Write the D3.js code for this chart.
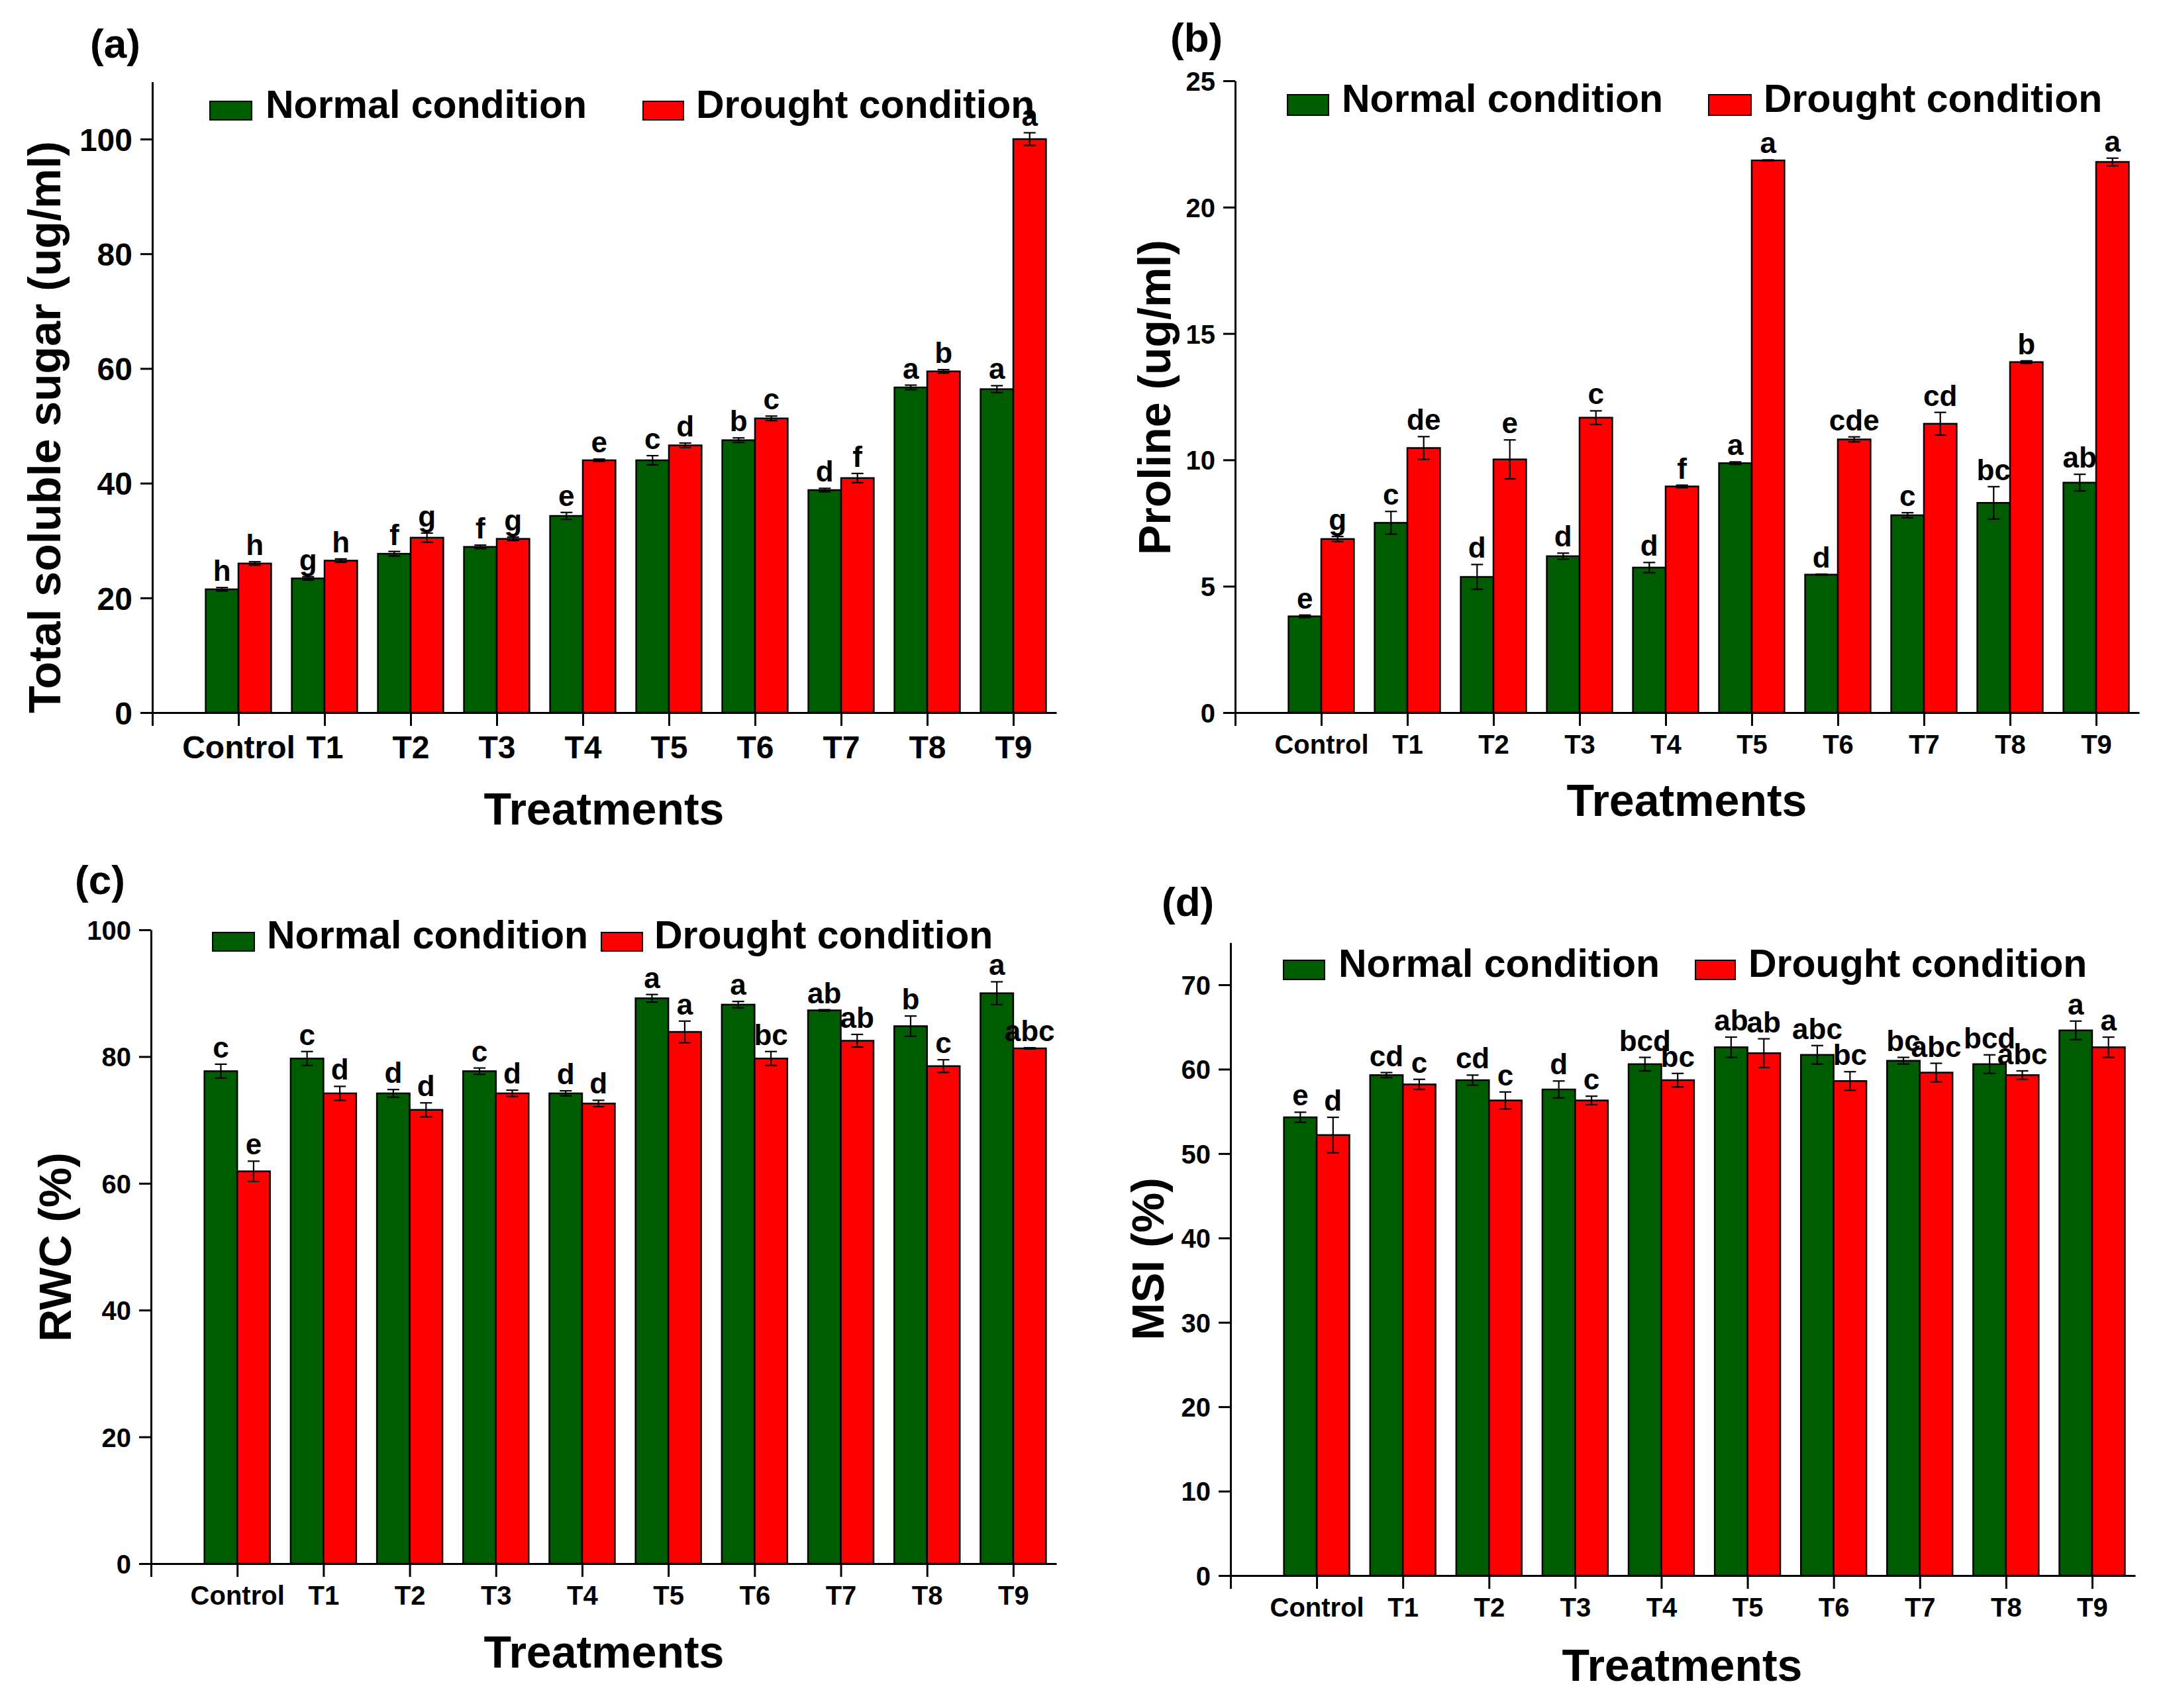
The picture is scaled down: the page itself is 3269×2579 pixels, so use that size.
<!DOCTYPE html>
<html>
<head>
<meta charset="utf-8">
<script src="https://cdn.jsdelivr.net/npm/d3@7"></script>
<style>
  html, body { margin: 0; padding: 0; background: #ffffff; }
  svg { display: block; }
  text { font-family: "Liberation Sans", Arial, "Helvetica", sans-serif; font-weight: bold; fill: #000; }
</style>
</head>
<body>
<script>
// ---------------- DATA ----------------
const categories = ["Control", "T1", "T2", "T3", "T4", "T5", "T6", "T7", "T8", "T9"];
const seriesNames = ["Normal condition", "Drought condition"];

// (a) Total soluble sugar (ug/ml)
const sugarNormal       = [21.5, 23.4, 27.7, 28.9, 34.3, 44.0, 47.5, 38.8, 56.7, 56.4];
const sugarDrought      = [26.0, 26.5, 30.5, 30.3, 44.0, 46.6, 51.3, 40.9, 59.5, 100.0];
const sugarNormalErr    = [0.3, 0.3, 0.4, 0.3, 0.6, 0.8, 0.4, 0.3, 0.4, 0.6];
const sugarDroughtErr   = [0.3, 0.3, 0.8, 0.3, 0.2, 0.4, 0.4, 0.8, 0.3, 1.1];
const sugarNormalLetters  = ["h", "g", "f", "f", "e", "c", "b", "d", "a", "a"];
const sugarDroughtLetters = ["h", "h", "g", "g", "e", "d", "c", "f", "b", "a"];
const sugarTicks = [0, 20, 40, 60, 80, 100];

// (b) Proline (ug/ml)
const prolineNormal     = [3.81, 7.51, 5.37, 6.19, 5.74, 9.87, 5.46, 7.81, 8.30, 9.10];
const prolineDrought    = [6.87, 10.47, 10.02, 11.67, 8.95, 21.85, 10.81, 11.43, 13.87, 21.79];
const prolineNormalErr  = [0.05, 0.45, 0.49, 0.12, 0.2, 0.05, 0.02, 0.1, 0.64, 0.33];
const prolineDroughtErr = [0.1, 0.45, 0.77, 0.27, 0.05, 0.02, 0.1, 0.45, 0.05, 0.15];
const prolineNormalLetters  = ["e", "c", "d", "d", "d", "a", "d", "c", "bc", "ab"];
const prolineDroughtLetters = ["g", "de", "e", "c", "f", "a", "cde", "cd", "b", "a"];
const prolineTicks = [0, 5, 10, 15, 20, 25];

// (c) RWC (%)
const rwcNormal       = [77.7, 79.7, 74.2, 77.7, 74.2, 89.2, 88.2, 87.3, 84.8, 90.0];
const rwcDrought      = [61.9, 74.2, 71.6, 74.2, 72.6, 83.9, 79.7, 82.5, 78.5, 81.3];
const rwcNormalErr    = [1.1, 1.1, 0.6, 0.5, 0.4, 0.6, 0.5, 0.1, 1.6, 1.8];
const rwcDroughtErr   = [1.6, 1.1, 1.1, 0.5, 0.5, 1.7, 1.1, 1.0, 1.0, 0.1];
const rwcNormalLetters  = ["c", "c", "d", "c", "d", "a", "a", "ab", "b", "a"];
const rwcDroughtLetters = ["e", "d", "d", "d", "d", "a", "bc", "ab", "c", "abc"];
const rwcTicks = [0, 20, 40, 60, 80, 100];

// (d) MSI (%)
const msiNormal       = [54.3, 59.3, 58.7, 57.6, 60.6, 62.6, 61.7, 61.0, 60.6, 64.6];
const msiDrought      = [52.2, 58.2, 56.3, 56.3, 58.7, 61.9, 58.6, 59.6, 59.3, 62.6];
const msiNormalErr    = [0.6, 0.3, 0.6, 1.0, 0.8, 1.2, 1.1, 0.4, 1.1, 1.1];
const msiDroughtErr   = [2.1, 0.6, 1.0, 0.5, 0.8, 1.7, 1.1, 1.1, 0.5, 1.2];
const msiNormalLetters  = ["e", "cd", "cd", "d", "bcd", "ab", "abc", "bc", "bcd", "a"];
const msiDroughtLetters = ["d", "c", "c", "c", "bc", "ab", "bc", "abc", "abc", "a"];
const msiTicks = [0, 10, 20, 30, 40, 50, 60, 70];

// ---------------- STYLE / LAYOUT ----------------
const COLORS = ["#005c00", "#ff0000"];
const W = 3269, H = 2579;

const panels = [
  { tag: "(a)", tagX: 136, tagY: 87,
    normal: sugarNormal, drought: sugarDrought, nErr: sugarNormalErr, dErr: sugarDroughtErr,
    nLet: sugarNormalLetters, dLet: sugarDroughtLetters, ticks: sugarTicks,
    yMax: 110, refVal: 100, y0: 1076, yRefPx: 210, xa: 230, xb: 1595,
    yTitle: "Total soluble sugar (ug/ml)", yTitleX: 91, yTitleY: 645,
    tickFont: 48, xLabelOff: 69, xTitleX: 912, xTitleY: 1245,
    legTop: 153, legH: 28, legG: [317, 63], legGText: 401, legR: [971, 61], legRText: 1051, legBase: 178 },
  { tag: "(b)", tagX: 1767, tagY: 78,
    normal: prolineNormal, drought: prolineDrought, nErr: prolineNormalErr, dErr: prolineDroughtErr,
    nLet: prolineNormalLetters, dLet: prolineDroughtLetters, ticks: prolineTicks,
    yMax: 25, refVal: 25, y0: 1076, yRefPx: 122, xa: 1865, xb: 3230,
    yTitle: "Proline (ug/ml)", yTitleX: 1767, yTitleY: 600,
    tickFont: 40, xLabelOff: 62, xTitleX: 2547, xTitleY: 1232,
    legTop: 143, legH: 31, legG: [1944, 62], legGText: 2026, legR: [2580, 64], legRText: 2663, legBase: 169 },
  { tag: "(c)", tagX: 113, tagY: 1350,
    normal: rwcNormal, drought: rwcDrought, nErr: rwcNormalErr, dErr: rwcDroughtErr,
    nLet: rwcNormalLetters, dLet: rwcDroughtLetters, ticks: rwcTicks,
    yMax: 100, refVal: 100, y0: 2361, yRefPx: 1404, xa: 228, xb: 1595,
    yTitle: "RWC (%)", yTitleX: 107, yTitleY: 1883,
    tickFont: 40, xLabelOff: 62, xTitleX: 912, xTitleY: 2518,
    legTop: 1408, legH: 28, legG: [321, 63], legGText: 403, legR: [908, 62], legRText: 988, legBase: 1432 },
  { tag: "(d)", tagX: 1754, tagY: 1383,
    normal: msiNormal, drought: msiDrought, nErr: msiNormalErr, dErr: msiDroughtErr,
    nLet: msiNormalLetters, dLet: msiDroughtLetters, ticks: msiTicks,
    yMax: 75, refVal: 70, y0: 2379, yRefPx: 1487, xa: 1858, xb: 3224,
    yTitle: "MSI (%)", yTitleX: 1757, yTitleY: 1901,
    tickFont: 40, xLabelOff: 62, xTitleX: 2540, xTitleY: 2538,
    legTop: 1450, legH: 29, legG: [1938, 62], legGText: 2021, legR: [2560, 60], legRText: 2640, legBase: 1475 }
];

// ---------------- DRAW ----------------
const svg = d3.select("body").append("svg")
  .attr("width", W).attr("height", H)
  .attr("viewBox", `0 0 ${W} ${H}`);
svg.append("rect").attr("width", W).attr("height", H).attr("fill", "#ffffff");

panels.forEach(p => {
  const g = svg.append("g");
  const pxPerUnit = (p.y0 - p.yRefPx) / p.refVal;
  const y = d3.scaleLinear().domain([0, p.yMax]).range([p.y0, p.y0 - p.yMax * pxPerUnit]);
  const x = d3.scaleLinear().domain([-1, 9.5]).range([p.xa, p.xb]);
  const bw = 0.38 * (x(1) - x(0));

  const rows = categories.map((c, i) => ({
    i, c,
    vals: [
      { s: 0, v: p.normal[i], e: p.nErr[i], l: p.nLet[i] },
      { s: 1, v: p.drought[i], e: p.dErr[i], l: p.dLet[i] }
    ]
  }));
  const items = rows.flatMap(r => r.vals.map(d => Object.assign({ i: r.i }, d)));
  const barX = d => d.s === 0 ? x(d.i) - bw : x(d.i);

  // bars
  g.append("g").selectAll("rect").data(items).join("rect")
    .attr("x", barX)
    .attr("y", d => y(d.v))
    .attr("width", bw)
    .attr("height", d => y(0) - y(d.v))
    .attr("fill", d => COLORS[d.s])
    .attr("stroke", "#000")
    .attr("stroke-width", 2.5);

  // error bars
  const eg = g.append("g").attr("stroke", "#000").attr("stroke-width", 2.2);
  items.forEach(d => {
    const cx = barX(d) + bw / 2;
    const cap = 9;
    eg.append("line").attr("x1", cx).attr("x2", cx).attr("y1", y(d.v + d.e)).attr("y2", y(d.v - d.e));
    eg.append("line").attr("x1", cx - cap).attr("x2", cx + cap).attr("y1", y(d.v + d.e)).attr("y2", y(d.v + d.e));
    eg.append("line").attr("x1", cx - cap).attr("x2", cx + cap).attr("y1", y(d.v - d.e)).attr("y2", y(d.v - d.e));
  });

  // significance letters
  g.append("g").selectAll("text").data(items).join("text")
    .attr("x", d => barX(d) + bw / 2)
    .attr("y", d => y(d.v + d.e) - 10)
    .attr("text-anchor", "middle")
    .style("font-size", "44px")
    .text(d => d.l);

  // y axis
  const yAxis = d3.axisLeft(y).tickValues(p.ticks).tickSize(18).tickSizeOuter(0).tickPadding(12)
    .tickFormat(d3.format("d"));
  const ya = g.append("g").attr("transform", `translate(${p.xa},0)`).call(yAxis);
  ya.select(".domain").attr("stroke-width", 3);
  ya.selectAll(".tick line").attr("stroke-width", 3);
  ya.selectAll(".tick text")
    .attr("font-family", null).attr("font-size", null)
    .style("font-size", p.tickFont + "px")
    .attr("dy", "0.36em");

  // x axis
  const xAxis = d3.axisBottom(x).tickValues(d3.range(-1, 10)).tickSize(20).tickSizeOuter(0)
    .tickFormat(i => i < 0 ? "" : categories[i]);
  const xa = g.append("g").attr("transform", `translate(0,${p.y0})`).call(xAxis);
  xa.select(".domain").attr("stroke-width", 3);
  xa.selectAll(".tick line").attr("stroke-width", 3);
  xa.selectAll(".tick text")
    .attr("font-family", null).attr("font-size", null)
    .style("font-size", p.tickFont + "px")
    .attr("dy", null)
    .attr("y", p.xLabelOff);
  g.selectAll(".domain").attr("stroke", "#000");
  g.selectAll(".tick line").attr("stroke", "#000");
  g.selectAll(".tick text").attr("fill", "#000");

  // x title
  g.append("text").attr("x", p.xTitleX).attr("y", p.xTitleY)
    .attr("text-anchor", "middle").style("font-size", "68px").text("Treatments");

  // y title
  g.append("text")
    .attr("transform", `translate(${p.yTitleX},${p.yTitleY}) rotate(-90)`)
    .attr("text-anchor", "middle").style("font-size", "68px").text(p.yTitle);

  // panel tag
  g.append("text").attr("x", p.tagX).attr("y", p.tagY)
    .style("font-size", "62px").text(p.tag);

  // legend
  const lg = g.append("g");
  lg.append("rect").attr("x", p.legG[0]).attr("y", p.legTop).attr("width", p.legG[1]).attr("height", p.legH)
    .attr("fill", COLORS[0]).attr("stroke", "#000").attr("stroke-width", 2);
  lg.append("text").attr("x", p.legGText).attr("y", p.legBase).style("font-size", "59px").text(seriesNames[0]);
  lg.append("rect").attr("x", p.legR[0]).attr("y", p.legTop).attr("width", p.legR[1]).attr("height", p.legH)
    .attr("fill", COLORS[1]).attr("stroke", "#000").attr("stroke-width", 2);
  lg.append("text").attr("x", p.legRText).attr("y", p.legBase).style("font-size", "59px").text(seriesNames[1]);
});
</script>
</body>
</html>
